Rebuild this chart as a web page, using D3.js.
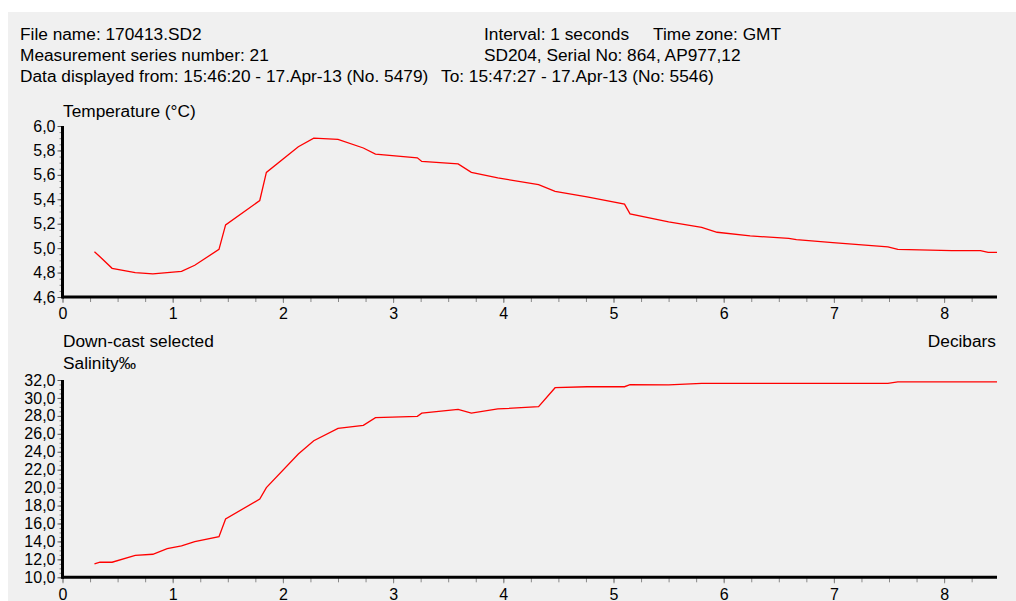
<!DOCTYPE html>
<html>
<head>
<meta charset="utf-8">
<script src="https://cdn.jsdelivr.net/npm/d3@7"></script>
<style>
  body { margin: 0; background: #fff; }
  svg { display: block; font-family: "Liberation Sans", Arial, sans-serif; }
</style>
</head>
<body>
<div id="chart"></div>
<script>
// depth in decibars (shared by both profiles)
const depth = [0.29, 0.34, 0.45, 0.66, 0.82, 0.95, 1.08, 1.20, 1.42, 1.48,
  1.79, 1.85, 2.14, 2.28, 2.50, 2.73, 2.84, 3.22, 3.26, 3.59,
  3.71, 3.95, 4.32, 4.47, 4.76, 5.10, 5.15, 5.50, 5.80, 5.94,
  6.24, 6.59, 6.66, 6.99, 7.49, 7.58, 8.07, 8.33, 8.40, 8.48];
const temperature = [4.97, 4.93, 4.835, 4.80, 4.79, 4.80, 4.81, 4.86, 4.99, 5.19,
  5.39, 5.62, 5.83, 5.90, 5.89, 5.82, 5.77, 5.74, 5.71, 5.69,
  5.62, 5.575, 5.52, 5.465, 5.42, 5.36, 5.28, 5.215, 5.17, 5.13,
  5.10, 5.08, 5.07, 5.045, 5.01, 4.99, 4.98, 4.98, 4.965, 4.965];
const salinity = [11.5, 11.68, 11.68, 12.45, 12.57, 13.19, 13.5, 13.97, 14.53, 16.5,
  18.73, 20.0, 23.75, 25.23, 26.6, 26.95, 27.8, 27.95, 28.3, 28.73,
  28.3, 28.77, 29.02, 31.14, 31.25, 31.25, 31.47, 31.45, 31.63, 31.63,
  31.63, 31.63, 31.63, 31.63, 31.63, 31.78, 31.78, 31.78, 31.78, 31.78];

const xTicks = [0, 1, 2, 3, 4, 5, 6, 7, 8];
const tempTicks = [4.6, 4.8, 5.0, 5.2, 5.4, 5.6, 5.8, 6.0];
const salTicks = [10, 12, 14, 16, 18, 20, 22, 24, 26, 28, 30, 32];

const headerLeft = ["File name: 170413.SD2", "Measurement series number: 21",
  "Data displayed from: 15:46:20 - 17.Apr-13 (No. 5479)"];
const headerRight = ["Interval: 1 seconds", "SD204, Serial No: 864, AP977,12",
  "To: 15:47:27 - 17.Apr-13 (No: 5546)"];

const W = 1016, H = 601;
const FS = 17.3, TFS = 16;
const svg = d3.select("#chart").append("svg").attr("width", W).attr("height", H);
svg.append("rect").attr("x", 8).attr("y", 12).attr("width", W - 8).attr("height", H - 12)
  .attr("fill", "#f0f0f0");

// header
const hdr = svg.append("g").attr("font-size", FS).attr("fill", "#000");
hdr.selectAll("text.l").data(headerLeft).join("text").attr("class", "l")
  .attr("x", 20).attr("y", (d, i) => 40 + i * 21).text(d => d);
hdr.selectAll("text.r").data(headerRight).join("text").attr("class", "r")
  .attr("x", (d, i) => i == 2 ? 441 : 484).attr("y", (d, i) => 40 + i * 21).text(d => d);
hdr.append("text").attr("x", 653).attr("y", 40).text("Time zone: GMT");

const x = d3.scaleLinear().domain([0, 8.48]).range([62.5, 997]);
const fmt = d => d3.format(".1f")(d).replace(".", ",");

function panel(yDomain, yRange, yTicks, yMinorStep, values) {
  const y = d3.scaleLinear().domain(yDomain).range(yRange);
  const g = svg.append("g");
  const y0 = yRange[0];

  // x minor ticks
  const xMinor = d3.range(0, 8.5, 0.25);
  g.append("g").attr("transform", `translate(0,${y0})`)
    .call(d3.axisBottom(x).tickValues(xMinor).tickSize(5).tickFormat(""))
    .call(a => a.select(".domain").remove())
    .call(a => a.selectAll("line").attr("stroke", "#888"));
  g.append("g").attr("transform", `translate(0,${y0})`)
    .call(d3.axisBottom(x).tickValues(xTicks).tickSize(6).tickPadding(5).tickFormat(d3.format("d")))
    .call(a => a.select(".domain").remove())
    .call(a => a.selectAll("line").attr("stroke", "#888"))
    .call(a => a.selectAll("text").attr("font-size", TFS).attr("fill", "#000")
      .attr("font-family", "Liberation Sans, Arial, sans-serif"));

  // y minor ticks
  const yMinor = d3.range(yDomain[0], yDomain[1] + 1e-9, yMinorStep);
  g.append("g").attr("transform", `translate(${x(0)},0)`)
    .call(d3.axisLeft(y).tickValues(yMinor).tickSize(3).tickFormat(""))
    .call(a => a.select(".domain").remove())
    .call(a => a.selectAll("line").attr("stroke", "#888"));
  g.append("g").attr("transform", `translate(${x(0)},0)`)
    .call(d3.axisLeft(y).tickValues(yTicks).tickSize(5).tickPadding(2).tickFormat(fmt))
    .call(a => a.select(".domain").remove())
    .call(a => a.selectAll("line").attr("stroke", "#555"))
    .call(a => a.selectAll("text").attr("font-size", TFS).attr("fill", "#000")
      .attr("font-family", "Liberation Sans, Arial, sans-serif"));

  // thick axis lines
  g.append("line").attr("x1", x(0)).attr("x2", x(0)).attr("y1", yRange[1]).attr("y2", y0 + 1.5)
    .attr("stroke", "#000").attr("stroke-width", 3);
  g.append("line").attr("x1", x(0)).attr("x2", x(8.48)).attr("y1", y0).attr("y2", y0)
    .attr("stroke", "#000").attr("stroke-width", 3);

  const line = d3.line().x((d, i) => x(depth[i])).y(d => y(d));
  g.append("path").datum(values).attr("d", line)
    .attr("fill", "none").attr("stroke", "#ff0000").attr("stroke-width", 1.3);
}

panel([4.6, 6.0], [297, 126], tempTicks, 0.05, temperature);
panel([10, 32], [577.3, 380], salTicks, 0.5, salinity);

const lab = svg.append("g").attr("font-size", FS).attr("fill", "#000");
lab.append("text").attr("x", 63).attr("y", 117).text("Temperature (°C)");
lab.append("text").attr("x", 63).attr("y", 347).text("Down-cast selected");
lab.append("text").attr("x", 63).attr("y", 369).text("Salinity‰");
lab.append("text").attr("x", 996).attr("y", 347).attr("text-anchor", "end").text("Decibars");
</script>
</body>
</html>
